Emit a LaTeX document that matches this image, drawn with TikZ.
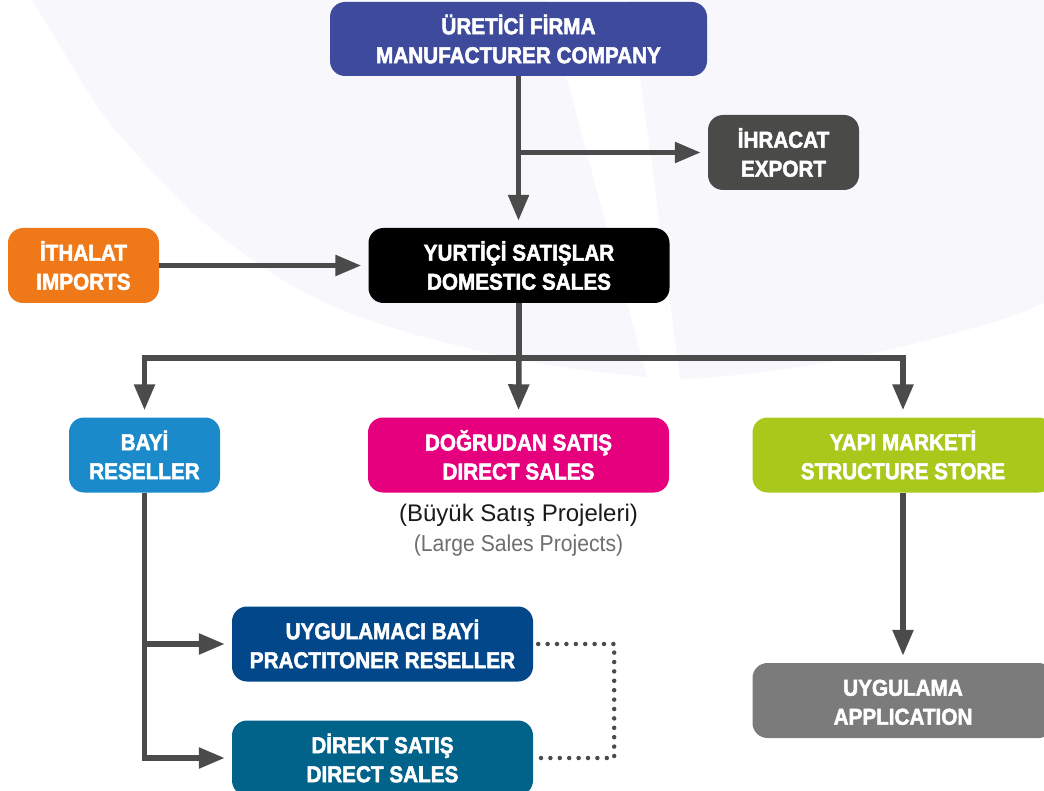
\documentclass[tikz,border=0pt]{standalone}
\usepackage{fontspec}
\setmainfont{Liberation Sans}
\newfontfamily\boxfont{Liberation Sans}[FakeStretch=0.9, FakeBold=2.2]
\newfontfamily\notefont{Liberation Sans}[FakeStretch=0.92]
\usetikzlibrary{arrows.meta}

\definecolor{cMaker}{HTML}{3E4A9B}
\definecolor{cExport}{HTML}{4A4A48}
\definecolor{cImport}{HTML}{EF7818}
\definecolor{cDomestic}{HTML}{000000}
\definecolor{cReseller}{HTML}{1B8ACB}
\definecolor{cDirect}{HTML}{E6007E}
\definecolor{cStore}{HTML}{A9C81C}
\definecolor{cPract}{HTML}{024789}
\definecolor{cDSale}{HTML}{01628A}
\definecolor{cApp}{HTML}{7B7B7B}
\definecolor{cFlow}{HTML}{4B4B4B}
\definecolor{cBack}{HTML}{F7F7FC}
\definecolor{cNote}{HTML}{1A1A1A}
\definecolor{cNoteGray}{HTML}{6E6E6E}

% two-line box label with uniform line heights
\newcommand{\twolines}[2]{\vphantom{İ}#1\\#2}

\tikzset{
  box/.style={rounded corners=15pt, minimum width=301pt, minimum height=75pt,
    inner sep=0pt, text=white, align=center,
    font=\boxfont\bfseries\fontsize{23}{29}\selectfont},
  smallbox/.style={box, minimum width=151pt},
  flow/.style={draw=cFlow, line width=5.5pt, line join=miter},
  arr/.style={flow, -{Triangle[width=20pt,length=26pt]}, shorten >=7pt},
  dotlink/.style={draw=cFlow, line width=4.5pt, line cap=round,
    dash pattern=on 0pt off 9.4pt}
}

\begin{document}
\begin{tikzpicture}[x=1pt, y=-1pt]
  \useasboundingbox (0,0) rectangle (1044,791);
  \fill[white] (0,0) rectangle (1044,791);

  % soft background blob with a light diagonal band
  \def\blob{(25,-10) -- plot[smooth, tension=0.6] coordinates
    {(32,0) (67,57) (100,110) (133,150) (167,187) (213,230) (300,290)
     (400,330) (533,362) (647,377) (700,378) (800,367) (900,347)
     (1000,320) (1044,303) (1070,292)} -- (1070,-10) -- cycle}
  \fill[cBack] \blob;
  \begin{scope}
    \clip \blob;
    \fill[white] (546,0) -- (630,0) -- (683,400) -- (653,400) -- cycle;
  \end{scope}

  % boxes
  \node[box, fill=cMaker, minimum width=377pt, minimum height=74pt] (maker) at (518.5,39)
    {\twolines{ÜRETİCİ FİRMA}{MANUFACTURER COMPANY}};
  \node[smallbox, fill=cExport] (export) at (783.5,152.5)
    {\twolines{İHRACAT}{EXPORT}};
  \node[smallbox, fill=cImport] (import) at (83.5,265.5)
    {\twolines{İTHALAT}{IMPORTS}};
  \node[box, fill=cDomestic] (domestic) at (519,265.5)
    {\twolines{YURTİÇİ SATIŞLAR}{DOMESTIC SALES}};
  \node[smallbox, fill=cReseller] (reseller) at (144.5,455)
    {\twolines{BAYİ}{RESELLER}};
  \node[box, fill=cDirect] (direct) at (518.5,455)
    {\twolines{DOĞRUDAN SATIŞ}{DIRECT SALES}};
  \node[box, fill=cStore] (store) at (903,455)
    {\twolines{YAPI MARKETİ}{STRUCTURE STORE}};
  \node[box, fill=cPract] (pract) at (382.5,644)
    {\twolines{UYGULAMACI BAYİ}{PRACTITONER RESELLER}};
  \node[box, fill=cDSale] (dsale) at (382.5,758)
    {\twolines{DİREKT SATIŞ}{DIRECT SALES}};
  \node[box, fill=cApp] (app) at (903,700.5)
    {\twolines{UYGULAMA}{APPLICATION}};

  % note under the direct sales box
  \node[anchor=base, text=cNote, font=\fontsize{24}{28}\selectfont] (noteTr) at (518.5,521)
    {(Büyük Satış Projeleri)};
  \node[anchor=base, text=cNoteGray, font=\notefont\fontsize{23}{27}\selectfont] (noteEn) at (518.5,551)
    {(Large Sales Projects)};

  % connectors
  \draw[arr] (maker.south) -- (maker.south |- domestic.north);
  \coordinate (exportSplit) at (maker.south |- export.west);
  \draw[arr] (exportSplit) -- (export.west);
  \draw[arr] (import.east) -- (domestic.west);

  \coordinate (split) at (domestic.south |- 0,358);
  \draw[flow] (domestic.south) -- (split);
  \draw[arr] (split) -| (reseller.north);
  \draw[arr] (split) -| (store.north);
  \draw[arr] (split) -- (direct.north);

  \draw[arr] (reseller.south) |- (pract.west);
  \draw[arr] (reseller.south) |- (dsale.west);
  \draw[arr] (store.south) -- (app.north);

  \draw[dotlink] ([xshift=5pt]pract.east) -- ++(76,0) |- ([xshift=5pt]dsale.east);
\end{tikzpicture}
\end{document}
